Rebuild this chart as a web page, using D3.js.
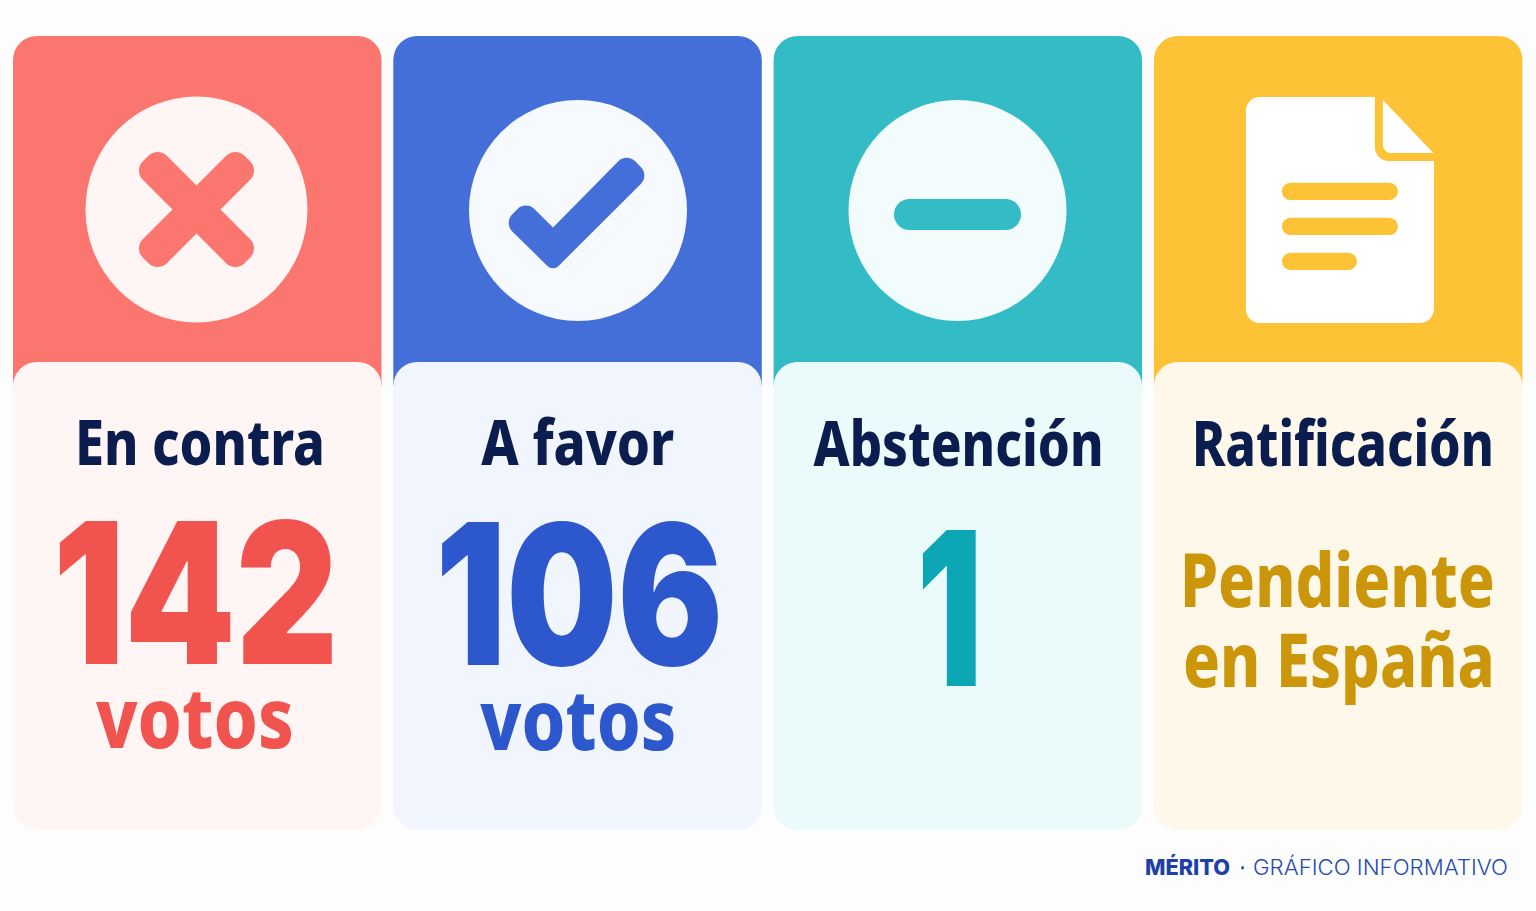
<!DOCTYPE html>
<html lang="es">
<head>
<meta charset="utf-8">
<title>Votos</title>
<script src="https://cdn.jsdelivr.net/npm/d3@7"></script>
<style>
  html, body { margin: 0; padding: 0; background: #fdfdfe; }
  svg { display: block; }
  text { font-family: "Noto Sans", "Open Sans", sans-serif; }
</style>
</head>
<body>
<div id="chart"></div>
<script>
const W = 1536;
const H = 911;

// Chart content
const categories = ['En contra', 'A favor', 'Abstención', 'Ratificación'];
const values = ['142', '106', '1', null];
const units = ['votos', 'votos', null, null];
const statusLines = [null, null, null, ['Pendiente', 'en España']];
const footerBrand = 'MÉRITO';
const footerDot = '·';
const footerText = 'GRÁFICO INFORMATIVO';

// Colours, same order as categories
const headColors = ['#fb766e', '#446ed8', '#34bcc6', '#fdc236'];
const panelColors = ['#fff5f4', '#f1f5fd', '#ebfafb', '#fdf8ea'];
const textColors = ['#f1544f', '#2d57cc', '#0ca6b5', '#cc960b'];
const iconBg = ['#fff5f4', '#f6f9fe', '#f3fcfc', '#ffffff'];
const NAVY = '#0b1d4e';

// Hand-tuned text boxes, [left, width, baseline], left is relative to the card
const labelBox = [[62, 250, 465], [88, 193, 465], [40, 290, 466], [38, 302, 466]];
const valueBox = [[40, 285, 664], [42, 288, 665], [143, 66, 686], null];
const unitBox = [[83, 198, 748], [87, 196, 750], null, null];
const statusBox = [null, null, null, [[26, 315, 607], [29, 312, 687]]];
const valueSize = [196, 196, 214];

const x = d3.scaleBand()
  .domain(categories)
  .range([13, 1522.4])
  .paddingInner(0.031);

const svg = d3.select('#chart').append('svg')
  .attr('width', W)
  .attr('height', H)
  .attr('viewBox', `0 0 ${W} ${H}`);

const CARD_TOP = 36;
const PANEL_TOP = 362;
const CARD_BOTTOM = 830;
const RADIUS = 24;

// Polygon with rounded corners, r can be 0 for a sharp corner
function roundedPoly(pts) {
  const path = d3.path();
  const n = pts.length;
  const last = pts[n - 1];
  path.moveTo((last[0] + pts[0][0]) / 2, (last[1] + pts[0][1]) / 2);
  pts.forEach((p, i) => {
    const next = pts[(i + 1) % n];
    path.arcTo(p[0], p[1], next[0], next[1], p[2] || 0);
  });
  path.closePath();
  return path.toString();
}

// Text squeezed to the width it has in the picture
function fitText(g, str, box, size, weight, color, family) {
  const t = g.append('text')
    .attr('font-size', size)
    .attr('font-weight', weight)
    .attr('fill', color)
    .text(str);
  if (family) t.style('font-family', family);
  const sx = box[1] / t.node().getComputedTextLength();
  t.attr('transform', `translate(${box[0]},${box[2]}) scale(${sx},1)`);
  return t;
}

const drawIcon = [
  // cross
  (g, color, bg) => {
    g.append('ellipse').attr('cx', 183.5).attr('cy', 209.5).attr('rx', 111).attr('ry', 113).attr('fill', bg);
    [45, -45].forEach(a => {
      g.append('rect')
        .attr('x', 183.5 - 72).attr('y', 209.5 - 17)
        .attr('width', 144).attr('height', 34).attr('rx', 13)
        .attr('transform', `rotate(${a} 183.5 209.5)`)
        .attr('fill', color);
    });
  },
  // check
  (g, color, bg) => {
    g.append('ellipse').attr('cx', 184.7).attr('cy', 210.5).attr('rx', 109).attr('ry', 110.5).attr('fill', bg);
    g.append('path')
      .attr('d', roundedPoly([
        [159.7, 271.5, 8], [256, 175.5, 12], [233.3, 152.8, 12],
        [159.7, 227.5, 0], [132.5, 200.5, 12], [110.5, 223, 12]
      ]))
      .attr('fill', color);
  },
  // minus
  (g, color, bg) => {
    g.append('ellipse').attr('cx', 183.9).attr('cy', 210.5).attr('rx', 109).attr('ry', 110.5).attr('fill', bg);
    g.append('rect').attr('x', 120.4).attr('y', 199).attr('width', 127).attr('height', 31)
      .attr('rx', 15.5).attr('fill', color);
  },
  // document
  (g, color, bg) => {
    g.append('path')
      .attr('d', roundedPoly([
        [92, 97, 14], [221, 97, 0], [221, 161, 14],
        [280, 161, 0], [280, 323, 14], [92, 323, 14]
      ]))
      .attr('fill', bg);
    g.append('path')
      .attr('d', roundedPoly([[229, 100, 0], [279.5, 153, 0], [229, 153, 8]]))
      .attr('fill', bg);
    [[128, 116], [128, 116], [128, 75]].forEach((d, i) => {
      g.append('rect')
        .attr('x', d[0]).attr('y', 182.7 + i * 35)
        .attr('width', d[1]).attr('height', 17.3).attr('rx', 8.6)
        .attr('fill', color);
    });
  }
];

categories.forEach((cat, i) => {
  const g = svg.append('g').attr('transform', `translate(${x(cat)},0)`);
  const bw = x.bandwidth();

  // coloured head, runs on behind the pale panel
  g.append('path')
    .attr('d', roundedPoly([
      [0, CARD_TOP, RADIUS], [bw, CARD_TOP, RADIUS],
      [bw, PANEL_TOP + RADIUS, 0], [0, PANEL_TOP + RADIUS, 0]
    ]))
    .attr('fill', headColors[i]);
  g.append('rect')
    .attr('y', PANEL_TOP)
    .attr('width', bw)
    .attr('height', CARD_BOTTOM - PANEL_TOP)
    .attr('rx', RADIUS)
    .attr('fill', panelColors[i]);

  drawIcon[i](g, headColors[i], iconBg[i]);

  fitText(g, cat, labelBox[i], 63, 800, NAVY);
  if (values[i]) fitText(g, values[i], valueBox[i], valueSize[i], 900, textColors[i], 'Inter, "Noto Sans", sans-serif');
  if (units[i]) fitText(g, units[i], unitBox[i], 83, 800, textColors[i]);
  if (statusLines[i]) {
    statusLines[i].forEach((line, j) => {
      fitText(g, line, statusBox[i][j], 75, 800, textColors[i]);
    });
  }
});

// Footer
const footerFont = 'Inter, "Noto Sans", sans-serif';
fitText(svg, footerBrand, [1145, 85, 875], 21, 800, '#1c3fa8', footerFont);
fitText(svg, footerDot, [1240, 5, 875], 21, 700, '#1c3fa8', footerFont);
fitText(svg, footerText, [1253, 255, 875], 21, 300, '#2a4cae', footerFont);
</script>
</body>
</html>
